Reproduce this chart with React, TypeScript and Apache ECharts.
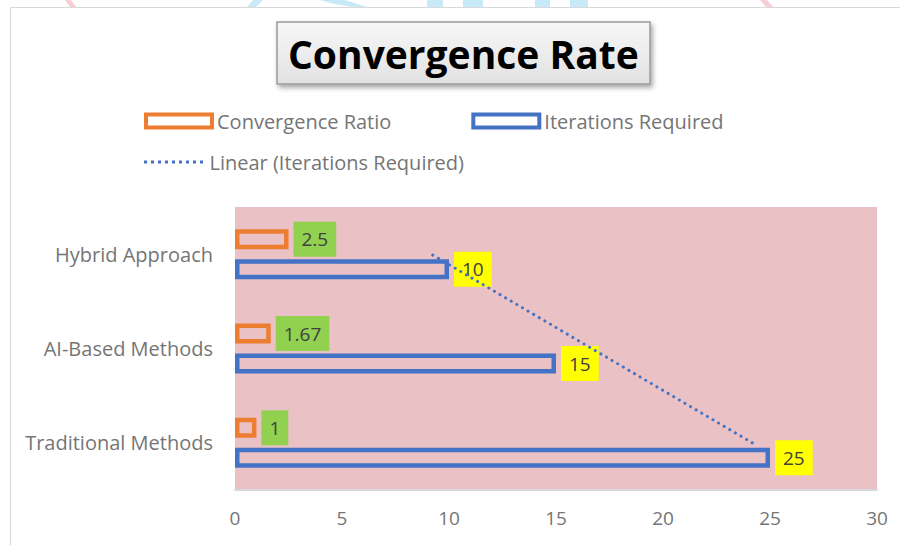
import React, { useEffect, useRef } from "react";
import * as echarts from "echarts";

const categories = ["Traditional Methods", "AI-Based Methods", "Hybrid Approach"];
const convergenceRatio = [1, 1.67, 2.5];
const iterationsRequired = [25, 15, 10];
// Linear trendline of Iterations Required
const trendValues = [24.17, 16.67, 9.17];
const xTicks = { min: 0, max: 30, interval: 5 };

const FONT = "'Open Sans', Lato, sans-serif";
const ORANGE = "#ED7D31";
const BLUE = "#4472C4";

function dottedIconPath(): string {
  let d = "path://";
  for (let i = 0; i < 9; i++) {
    const x = i * 7;
    d += `M${x},0h3v3h-3z`;
  }
  return d;
}

export default function App() {
  const ref = useRef<HTMLDivElement>(null);
  useEffect(() => {
    if (!ref.current) return;
    const chart = echarts.init(ref.current, null, { renderer: "svg" });
    const labelCommon = {
      show: true,
      position: "right",
      distance: 5,
      color: "#404040",
      fontSize: 19,
      fontFamily: FONT,
      padding: [8, 8, 8, 8],
    };
    chart.setOption({
      animation: false,
      backgroundColor: "#ffffff",
      title: {
        text: "Convergence Rate",
        left: 277,
        top: 22,
        padding: [10, 11, 10, 11],
        backgroundColor: new echarts.graphic.LinearGradient(0, 0, 0, 1, [
          { offset: 0, color: "#F7F7F7" },
          { offset: 1, color: "#E2E2E2" },
        ]),
        borderColor: "#9A9A9A",
        borderWidth: 1.5,
        shadowColor: "rgba(0,0,0,0.35)",
        shadowBlur: 5,
        shadowOffsetX: 2,
        shadowOffsetY: 3,
        textStyle: {
          fontFamily: FONT,
          fontWeight: "bold",
          fontSize: 39,
          color: "#000000",
          lineHeight: 42,
        },
      },
      legend: [
        {
          left: 139,
          top: 106,
          itemWidth: 66,
          itemHeight: 13,
          itemGap: 80,
          textStyle: { fontFamily: FONT, fontSize: 20, color: "#757575" },
          data: [
            {
              name: "Convergence Ratio",
              icon: "rect",
              itemStyle: { color: "#ffffff", borderColor: ORANGE, borderWidth: 4 },
            },
            {
              name: "Iterations Required",
              icon: "rect",
              itemStyle: { color: "#ffffff", borderColor: BLUE, borderWidth: 4 },
            },
          ],
        },
        {
          left: 139,
          top: 147,
          itemWidth: 62,
          itemHeight: 3,
          textStyle: { fontFamily: FONT, fontSize: 20, color: "#757575" },
          data: [
            {
              name: "Linear (Iterations Required)",
              icon: dottedIconPath(),
              itemStyle: { color: BLUE, borderWidth: 0 },
            },
          ],
        },
      ],
      grid: {
        left: 235,
        right: 23,
        top: 207,
        bottom: 55,
        show: true,
        backgroundColor: "#EAC1C4",
        borderWidth: 0,
      },
      xAxis: {
        type: "value",
        min: xTicks.min,
        max: xTicks.max,
        interval: xTicks.interval,
        splitLine: { show: false },
        axisTick: { show: false },
        axisLine: { show: true, lineStyle: { color: "#D9D9D9", width: 2 } },
        axisLabel: { fontFamily: FONT, fontSize: 19, color: "#757575", margin: 18 },
      },
      yAxis: {
        type: "category",
        data: categories,
        axisTick: { show: false },
        axisLine: { show: false },
        axisLabel: { fontFamily: FONT, fontSize: 20, color: "#757575", margin: 22 },
      },
      series: [
        {
          name: "Convergence Ratio",
          type: "bar",
          data: convergenceRatio,
          barWidth: 20,
          barGap: "50%",
          itemStyle: { color: "rgba(0,0,0,0)", borderColor: ORANGE, borderWidth: 4.5 },
          label: { ...labelCommon, backgroundColor: "#92D050" },
        },
        {
          name: "Iterations Required",
          type: "bar",
          data: iterationsRequired,
          barWidth: 20,
          barGap: "50%",
          itemStyle: { color: "rgba(0,0,0,0)", borderColor: BLUE, borderWidth: 4.5 },
          label: { ...labelCommon, backgroundColor: "#FFFF00" },
        },
        {
          name: "Linear (Iterations Required)",
          type: "line",
          z: 10,
          symbol: "none",
          data: categories.map((c, i) => [trendValues[i], c]),
          lineStyle: { color: BLUE, width: 3, type: [0.1, 6.4], cap: "round" },
          itemStyle: { color: BLUE },
        },
      ],
      graphic: [
        {
          type: "rect",
          silent: true,
          shape: { x: 10.5, y: 7.5, width: 1000, height: 1000 },
          style: { fill: "none", stroke: "#D9D9D9", lineWidth: 1.2 },
        },
        { type: "polygon", silent: true, shape: { points: [[65, 0], [71, 0], [76, 7], [70, 7]] }, style: { fill: "#F9CDD6" } },
        { type: "polygon", silent: true, shape: { points: [[247, 7], [253, 0], [263, 0], [256, 7]] }, style: { fill: "#C8EAF8" } },
        { type: "polygon", silent: true, shape: { points: [[320, 0], [345, 0], [367, 7], [352, 7], [330, 3]] }, style: { fill: "#C8EAF8" } },
        { type: "rect", silent: true, shape: { x: 427, y: 0, width: 16, height: 7 }, style: { fill: "#C8EAF8" } },
        { type: "rect", silent: true, shape: { x: 463, y: 0, width: 20, height: 7 }, style: { fill: "#C8EAF8" } },
        { type: "rect", silent: true, shape: { x: 535, y: 0, width: 15, height: 7 }, style: { fill: "#C8EAF8" } },
        { type: "rect", silent: true, shape: { x: 570, y: 0, width: 18, height: 7 }, style: { fill: "#C8EAF8" } },
        { type: "polygon", silent: true, shape: { points: [[760, 0], [767, 0], [773, 7], [766, 7]] }, style: { fill: "#F9CDD6" } },
      ],
    });
    return () => chart.dispose();
  }, []);
  return (
    <div
      ref={ref}
      style={{ position: "fixed", left: 0, top: 0, width: 900, height: 545 }}
    />
  );
}
